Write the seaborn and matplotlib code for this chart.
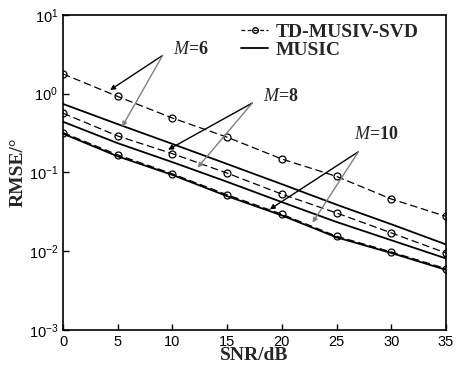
import numpy as np
import pandas as pd
import seaborn as sns
import matplotlib.pyplot as plt
from matplotlib.lines import Line2D

snr = [0, 5, 10, 15, 20, 25, 30, 35]

# TD-MUSIV-SVD (dashed, circles)
td_m6 = [1.78, 0.92, 0.49, 0.28, 0.148, 0.089, 0.046, 0.0277]
td_m8 = [0.565, 0.29, 0.173, 0.098, 0.053, 0.0306, 0.0171, 0.0095]
td_m10 = [0.32, 0.167, 0.096, 0.052, 0.0295, 0.0155, 0.0098, 0.0060]

# MUSIC (solid)
music_m6 = [0.74, 0.41, 0.23, 0.128, 0.071, 0.039, 0.022, 0.0122]
music_m8 = [0.44, 0.235, 0.135, 0.076, 0.042, 0.0235, 0.0138, 0.0081]
music_m10 = [0.31, 0.160, 0.093, 0.050, 0.0285, 0.0150, 0.0095, 0.0058]

rows = []
for name, M, vals in [("TD-MUSIV-SVD", 6, td_m6), ("TD-MUSIV-SVD", 8, td_m8),
                      ("TD-MUSIV-SVD", 10, td_m10), ("MUSIC", 6, music_m6),
                      ("MUSIC", 8, music_m8), ("MUSIC", 10, music_m10)]:
    for s, v in zip(snr, vals):
        rows.append({"snr": s, "rmse": v, "method": name, "M": M})
df = pd.DataFrame(rows)

sns.set_style("ticks")
plt.rcParams['font.family'] = ['Liberation Sans', 'DejaVu Sans']
plt.rcParams['mathtext.fontset'] = 'custom'
plt.rcParams['mathtext.it'] = 'Liberation Serif:italic'
plt.rcParams['mathtext.rm'] = 'Liberation Sans'
plt.rcParams['mathtext.default'] = 'regular'

fig = plt.figure(figsize=(4.65, 3.71), dpi=100)
ax = fig.add_axes([0.1355, 0.1105, 0.8235, 0.8495])

for (name, M), g in df.groupby(["method", "M"]):
    if name == "MUSIC":
        sns.lineplot(data=g, x="snr", y="rmse", ax=ax, color="black", lw=1.3)
    else:
        sns.lineplot(data=g, x="snr", y="rmse", ax=ax, color="black", lw=0.9,
                     dashes=False, linestyle=(0, (6, 3)), marker="o", markersize=5,
                     markerfacecolor="none", markeredgecolor="black", markeredgewidth=0.9)

ax.set_yscale("log")
ax.set_ylim(1e-3, 1e1)
ax.set_xlim(0, 35)
ax.set_xticks(snr)
ax.set_yticks([1e-3, 1e-2, 1e-1, 1e0, 1e1])
ax.minorticks_off()
ax.tick_params(direction="in", length=4, width=1, labelsize=10.5, colors="black")
for sp in ax.spines.values():
    sp.set_linewidth(1.2)
    sp.set_color("black")

serif = ['Liberation Serif', 'DejaVu Serif']
ax.set_xlabel("SNR/dB", family=serif, fontweight="bold", fontsize=14, labelpad=-1)
ax.set_ylabel("RMSE/°", family=serif, fontweight="bold", fontsize=14, labelpad=1)

handles = [Line2D([], [], color="black", lw=0.9, ls=(0, (3, 2)), marker="o", markersize=4,
                  markerfacecolor="none"),
           Line2D([], [], color="black", lw=1.3)]
ax.legend(handles, ["TD-MUSIV-SVD", "MUSIC"], loc="upper right", frameon=False,
          prop={"family": serif, "weight": "bold", "size": 14}, handlelength=1.4,
          handletextpad=0.4, borderaxespad=0.1, labelspacing=0.05,
          bbox_to_anchor=(0.955, 1.005))

def label(txt, xy, arrows):
    for end, col in arrows:
        ax.annotate("", xy=end, xytext=xy[1],
                    arrowprops=dict(arrowstyle="-|>", color=col, lw=1.0,
                                    mutation_scale=7, shrinkA=0, shrinkB=0))
    ax.text(xy[0][0], xy[0][1], txt, family=serif, fontweight="bold", fontsize=13,
            ha="center", va="center")

label(r"$\mathit{M}$=6", [(11.7, 3.6), (9.1, 3.05)],
      [((4.3, 1.11), "black"), ((5.4, 0.38), "gray")])
label(r"$\mathit{M}$=8", [(19.9, 0.92), (17.3, 0.76)],
      [((9.6, 0.194), "black"), ((12.3, 0.115), "gray")])
label(r"$\mathit{M}$=10", [(28.6, 0.30), (27.0, 0.183)],
      [((18.9, 0.034), "black"), ((22.8, 0.023), "gray")])

fig.savefig("out.png", dpi=100)
